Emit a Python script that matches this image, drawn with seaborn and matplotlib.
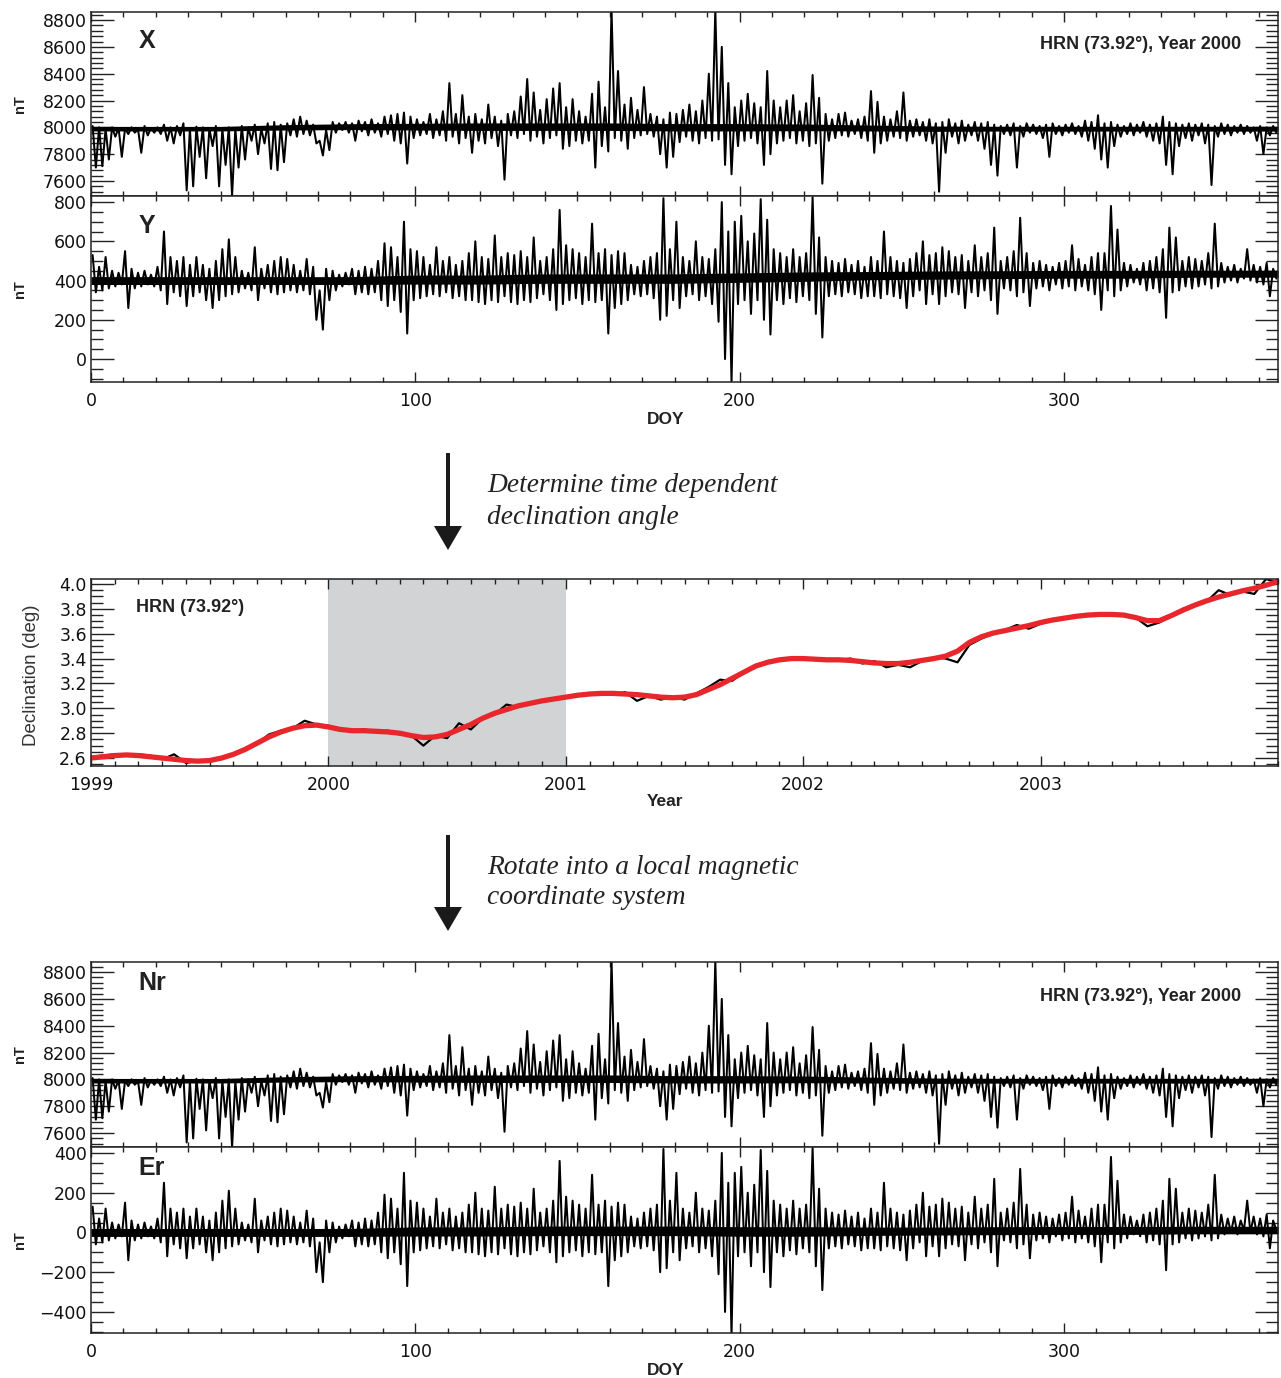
import numpy as np
import pandas as pd
import matplotlib
matplotlib.use("Agg")
import matplotlib.pyplot as plt
import seaborn as sns
from matplotlib.ticker import MultipleLocator, FormatStrFormatter, FixedLocator
from matplotlib.patches import FancyArrow

sns.set_theme(style="white")
plt.rcParams['font.family'] = ['DejaVu Sans']

# ---------------- data (2-day bins: high / low values) ----------------
x_hi = [8010,8000,7990,8000,7995,7990,8000,7985,8010,7995,
        8000,8020,8000,8010,8030,7990,8005,8000,7990,8010,
        7990,8000,7990,8010,8000,8020,7990,8030,8040,8020,
        8030,8060,8080,8050,8020,7900,7980,8040,8030,8040,
        8030,8050,8040,8060,8030,8080,8090,8100,8110,8080,
        8060,8040,8100,8060,8120,8330,8100,8240,8080,8100,
        8060,8170,8080,8050,8100,8120,8230,8360,8260,8130,
        8210,8290,8330,8150,8210,8120,8080,8250,8340,8150,
        8880,8420,8170,8220,8130,8300,8100,8080,8060,8110,
        8100,8130,8170,8120,8200,8400,8880,8600,8330,8150,
        8200,8250,8180,8150,8420,8200,8150,8200,8240,8120,
        8180,8390,8220,8100,8060,8100,8110,8050,8060,8080,
        8270,8190,8080,8060,8120,8260,8050,8060,8040,8060,
        8030,8040,8060,8030,8050,8020,8040,8030,8040,8020,
        8010,8020,8030,8010,8030,8020,8010,8020,8030,8010,
        8020,8030,8010,8050,8040,8090,8030,8040,8020,8010,
        8030,8020,8040,8020,8030,8080,8040,8030,8020,8030,
        8020,8030,8020,8010,8030,8020,8010,8020,8010,8000,
        8010,8000,8010]
x_lo = [7700,7710,7760,7930,7780,7950,7960,7810,7940,7960,
        7950,7900,7880,7940,7530,7560,7780,7620,7860,7560,
        7720,7490,7700,7760,7900,7800,7880,7690,7680,7740,
        7940,7930,7950,7940,7880,7790,7830,7960,7980,7960,
        7900,7970,7940,7960,7930,7950,7900,7880,7730,7920,
        7940,7950,7920,7940,7900,7930,7880,7920,7810,7900,
        7880,7920,7860,7610,7940,7920,7950,7900,7930,7880,
        7920,7940,7840,7860,7900,7880,7900,7700,7860,7820,
        7920,7900,7840,7920,7940,7950,7930,7800,7700,7780,
        7890,7930,7900,7880,7920,7900,7910,7720,7650,7860,
        7900,7920,7880,7720,7800,7880,7900,7920,7880,7900,
        7860,7880,7580,7900,7920,7940,7930,7950,7920,7900,
        7810,7880,7900,7930,7920,7900,7930,7940,7900,7880,
        7520,7810,7930,7880,7900,7940,7900,7840,7720,7640,
        7950,7940,7700,7930,7960,7950,7920,7780,7950,7940,
        7960,7950,7930,7900,7840,7760,7700,7860,7930,7950,
        7940,7960,7930,7900,7880,7720,7650,7860,7920,7900,
        7940,7880,7570,7930,7950,7940,7960,7950,7960,7900,
        7800,7940,7960]

y_hi = [530,470,520,450,440,550,460,440,450,430,
        470,650,520,500,520,480,520,480,460,500,
        560,610,520,450,440,570,460,480,500,520,
        510,480,450,510,470,350,460,450,430,440,
        460,450,470,460,500,590,570,520,700,560,
        550,520,480,570,500,520,480,500,540,600,
        520,510,630,520,540,530,550,520,620,500,
        520,560,760,580,560,540,520,690,540,560,
        530,550,540,480,470,500,520,540,820,560,
        700,520,500,600,520,510,560,800,650,700,
        730,600,640,815,710,560,540,520,560,520,
        540,825,620,520,500,490,510,480,500,470,
        520,500,650,520,500,490,510,540,600,530,
        540,570,550,520,530,500,580,520,540,670,
        500,520,550,720,540,490,500,480,470,490,
        500,580,510,480,520,540,540,780,660,490,
        480,460,490,500,520,560,670,620,500,520,
        510,500,540,690,490,470,480,460,560,480,
        470,490,460]
y_lo = [340,350,360,370,380,260,360,370,380,370,
        350,280,340,320,270,320,340,300,260,300,
        320,330,340,360,350,300,360,340,330,340,
        350,340,350,330,200,150,300,350,370,380,
        330,340,330,340,300,270,300,240,130,300,
        310,320,330,320,340,310,320,300,300,290,
        280,300,290,320,290,280,300,290,310,330,
        300,250,280,300,310,280,300,290,300,130,
        260,280,300,330,320,330,310,200,220,300,
        260,320,330,300,320,280,190,0,-120,280,
        300,230,300,200,125,300,280,310,290,320,
        300,230,110,320,330,320,340,330,310,320,
        320,310,330,320,310,260,320,350,280,330,
        280,320,340,330,260,340,320,350,300,230,
        360,350,320,340,270,360,370,350,380,360,
        370,350,370,350,330,250,350,320,350,370,
        390,380,350,360,340,210,340,350,370,360,
        370,380,360,370,390,400,390,410,400,390,
        380,320,410]

nr_hi = [8010,8000,7990,8000,7995,7990,8000,7985,8010,7995,
         8000,8020,8000,8010,8030,7990,8005,8000,7990,8010,
         7990,8000,7990,8010,8000,8020,7990,8030,8040,8020,
         8030,8060,8080,8050,8020,7900,7980,8040,8030,8040,
         8030,8050,8040,8060,8030,8080,8090,8100,8110,8080,
         8060,8040,8100,8060,8120,8330,8100,8240,8080,8100,
         8060,8170,8080,8050,8100,8120,8230,8360,8260,8130,
         8210,8290,8330,8150,8210,8120,8080,8250,8340,8150,
         8890,8420,8170,8220,8130,8300,8100,8080,8060,8110,
         8100,8130,8170,8120,8200,8400,8890,8600,8330,8150,
         8200,8250,8180,8150,8420,8200,8150,8200,8240,8120,
         8180,8390,8220,8100,8060,8100,8110,8050,8060,8080,
         8270,8190,8080,8060,8120,8260,8050,8060,8040,8060,
         8030,8040,8060,8030,8050,8020,8040,8030,8040,8020,
         8010,8020,8030,8010,8030,8020,8010,8020,8030,8010,
         8020,8030,8010,8050,8040,8090,8030,8040,8020,8010,
         8030,8020,8040,8020,8030,8080,8040,8030,8020,8030,
         8020,8030,8020,8010,8030,8020,8010,8020,8010,8000,
         8010,8000,8010]
nr_lo = [7700,7710,7760,7930,7780,7950,7960,7810,7940,7960,
         7950,7900,7880,7940,7530,7560,7780,7620,7860,7560,
         7720,7490,7700,7760,7900,7800,7880,7690,7680,7740,
         7940,7930,7950,7940,7880,7790,7830,7960,7980,7960,
         7900,7970,7940,7960,7930,7950,7900,7880,7730,7920,
         7940,7950,7920,7940,7900,7930,7880,7920,7810,7900,
         7880,7920,7860,7610,7940,7920,7950,7900,7930,7880,
         7920,7940,7840,7860,7900,7880,7900,7700,7860,7820,
         7920,7900,7840,7920,7940,7950,7930,7800,7700,7780,
         7890,7930,7900,7880,7920,7900,7910,7720,7650,7860,
         7900,7920,7880,7720,7800,7880,7900,7920,7880,7900,
         7860,7880,7580,7900,7920,7940,7930,7950,7920,7900,
         7810,7880,7900,7930,7920,7900,7930,7940,7900,7880,
         7520,7810,7930,7880,7900,7940,7900,7840,7720,7640,
         7950,7940,7700,7930,7960,7950,7920,7780,7950,7940,
         7960,7950,7930,7900,7840,7760,7700,7860,7930,7950,
         7940,7960,7930,7900,7880,7720,7650,7860,7920,7900,
         7940,7880,7570,7930,7950,7940,7960,7950,7960,7900,
         7800,7940,7960]

er_hi = [130,70,120,50,40,150,60,40,50,30,
         70,250,120,100,120,80,120,80,60,100,
         160,210,120,50,40,170,60,80,100,120,
         110,80,50,110,70,-50,60,50,30,40,
         60,50,70,60,100,190,170,120,300,160,
         150,120,80,170,100,120,80,100,140,200,
         120,110,230,120,140,130,150,120,220,100,
         120,160,360,180,160,140,120,290,140,160,
         130,150,140,80,70,100,120,140,420,160,
         300,120,100,200,120,110,160,400,250,300,
         330,200,240,415,310,160,140,120,160,120,
         140,425,220,120,100,90,110,80,100,70,
         120,100,250,120,100,90,110,140,200,130,
         140,170,150,120,130,100,180,120,140,270,
         100,120,150,320,140,90,100,80,70,90,
         100,180,110,80,120,140,140,380,260,90,
         80,60,90,100,120,160,270,220,100,120,
         110,100,140,290,90,70,80,60,160,80,
         70,90,60]
er_lo = [-60,-50,-40,-30,-20,-140,-40,-30,-20,-30,
         -50,-120,-60,-80,-130,-80,-60,-100,-140,-100,
         -80,-70,-60,-40,-50,-100,-40,-60,-70,-60,
         -50,-60,-50,-70,-200,-250,-100,-50,-30,-20,
         -70,-60,-70,-60,-100,-130,-100,-160,-270,-100,
         -90,-80,-70,-80,-60,-90,-80,-100,-100,-110,
         -120,-100,-110,-80,-110,-120,-100,-110,-90,-70,
         -100,-150,-120,-100,-90,-120,-100,-110,-100,-270,
         -140,-120,-100,-70,-80,-70,-90,-200,-180,-100,
         -140,-80,-70,-100,-80,-120,-210,-400,-520,-120,
         -100,-170,-100,-200,-275,-100,-120,-90,-110,-80,
         -100,-170,-290,-80,-70,-80,-60,-70,-90,-80,
         -80,-90,-70,-80,-90,-140,-80,-50,-120,-70,
         -120,-80,-60,-70,-140,-60,-80,-50,-100,-170,
         -40,-50,-80,-60,-130,-40,-30,-50,-20,-40,
         -30,-50,-30,-50,-70,-150,-50,-80,-50,-30,
         -10,-20,-50,-40,-60,-190,-60,-50,-30,-40,
         -30,-20,-40,-30,-10,0,-10,10,0,-10,
         -20,-80,10]

# quiet-time core band of each trace, sampled every 20 days (plus day 366)
core_days = [0, 20, 40, 60, 80, 100, 120, 140, 160, 180, 200, 220, 240, 260,
             280, 300, 320, 340, 360, 366]
x_core_lo = [7973,7973,7973,7980,7983,7980,7977,7977,7977,7973,7973,7975,7973,7970,
             7972,7972,7972,7972,7972,7972]
x_core_hi = [8007,8007,8007,8020,8027,8030,8033,8033,8033,8028,8028,8025,8017,8010,
             8008,8008,8008,8008,8008,8008]
nr_core_lo = [7973,7973,7973,7980,7983,7980,7977,7977,7977,7973,7973,7975,7973,7970,
              7972,7972,7972,7972,7972,7972]
nr_core_hi = [8007,8007,8007,8020,8027,8030,8033,8033,8033,8028,8028,8025,8017,8010,
              8008,8008,8008,8008,8008,8008]
y_core_lo = [380,380,380,380,380,382,382,386,386,386,391,396,404,407,410,412,412,417,417,417]
y_core_hi = [420,420,420,420,420,428,428,434,434,434,439,444,446,449,450,452,452,453,453,453]
er_core_lo = [-20,-20,-20,-20,-20,-18,-18,-16,-16,-16,-19,-19,-15,-13,-11,-10,-10,-7,-7,-7]
er_core_hi = [20,20,20,20,20,28,28,32,32,32,29,29,27,27,29,30,30,31,31,31]

# declination: black = measured, red = smoothed (both 0.05 yr steps)
decl_years = [1999.00 + 0.05 * i for i in range(101)]
decl_black = [2.61,2.62,2.63,2.63,2.63,2.62,2.59,2.63,2.56,2.58,
              2.57,2.60,2.62,2.68,2.72,2.79,2.82,2.84,2.90,2.87,
              2.86,2.83,2.81,2.83,2.81,2.82,2.79,2.78,2.70,2.78,
              2.76,2.88,2.83,2.92,2.95,3.03,3.01,3.04,3.06,3.07,
              3.09,3.11,3.12,3.12,3.11,3.13,3.06,3.10,3.07,3.09,
              3.07,3.12,3.17,3.23,3.22,3.29,3.33,3.38,3.39,3.40,
              3.40,3.40,3.39,3.39,3.40,3.36,3.38,3.33,3.35,3.33,
              3.38,3.41,3.40,3.37,3.51,3.56,3.60,3.63,3.67,3.64,
              3.68,3.71,3.72,3.74,3.75,3.76,3.76,3.75,3.73,3.66,
              3.69,3.74,3.80,3.83,3.86,3.95,3.91,3.94,3.92,4.04,
              4.01]
decl_red = [2.600,2.610,2.620,2.625,2.620,2.610,2.600,2.590,2.580,2.575,
            2.580,2.600,2.630,2.670,2.720,2.770,2.810,2.840,2.860,2.865,
            2.850,2.830,2.820,2.820,2.815,2.810,2.800,2.780,2.765,2.770,
            2.790,2.830,2.870,2.920,2.960,2.990,3.020,3.040,3.060,3.075,
            3.090,3.105,3.115,3.120,3.120,3.115,3.110,3.100,3.090,3.085,
            3.090,3.110,3.150,3.190,3.240,3.290,3.340,3.370,3.390,3.400,
            3.400,3.395,3.390,3.390,3.385,3.375,3.365,3.360,3.360,3.370,
            3.385,3.400,3.420,3.460,3.530,3.575,3.605,3.625,3.645,3.665,
            3.690,3.710,3.725,3.740,3.750,3.755,3.755,3.750,3.730,3.705,
            3.705,3.745,3.790,3.830,3.865,3.895,3.920,3.945,3.965,3.990,
            4.020]
year_ticks = [1999, 2000, 2001, 2002, 2003]

station_label = "HRN (73.92°), Year 2000"
station_short = "HRN (73.92°)"

# ---------------- figure ----------------
W, H = 1281, 1378
fig = plt.figure(figsize=(W / 100, H / 100), dpi=100)


def ax_px(top, bottom, left=91, right=1278):
    return fig.add_axes([left / W, 1 - bottom / H, (right - left) / W, (bottom - top) / H])


def interleave(hi, lo):
    v = np.column_stack([hi, lo]).ravel()
    d = np.arange(v.size) + 0.5
    return pd.DataFrame({"DOY": d, "value": v})


SP = '#222222'


def style(ax, xmaj, xmin, ymaj, ymin, xlabels=True):
    for s in ax.spines.values():
        s.set_visible(True)
        s.set_color(SP)
        s.set_linewidth(1.1)
    ax.xaxis.set_major_locator(xmaj if not isinstance(xmaj, (int, float)) else MultipleLocator(xmaj))
    ax.xaxis.set_minor_locator(MultipleLocator(xmin))
    ax.yaxis.set_major_locator(MultipleLocator(ymaj))
    ax.yaxis.set_minor_locator(MultipleLocator(ymin))
    ax.tick_params(which='both', direction='in', top=True, right=True, bottom=True,
                   left=True, color=SP, width=1.0, labelsize=12.5, labelcolor='#111111')
    ax.tick_params(axis='y', which='major', length=16.5, pad=3)
    ax.tick_params(axis='y', which='minor', length=8.5)
    ax.tick_params(axis='x', which='major', length=7, pad=7)
    ax.tick_params(axis='x', which='minor', length=3.5)
    if not xlabels:
        ax.tick_params(axis='x', labelbottom=False)
    ax.grid(False)


LBL = dict(family='Liberation Sans', fontweight='bold', color='#222222')


def mag_panel(top, bottom, hi, lo, core_lo, core_hi, ylim, ymaj, ymin, name, name_y,
              show_x, stn_y=None):
    ax = ax_px(top, bottom)
    ax.fill_between(core_days, core_lo, core_hi, color='black', lw=0)
    df = interleave(hi, lo)
    sns.lineplot(data=df, x="DOY", y="value", ax=ax, color='black', linewidth=1.45,
                 estimator=None, sort=False, legend=False)
    ax.set_xlim(0, 366)
    ax.set_ylim(*ylim)
    style(ax, 100, 10, ymaj, ymin, xlabels=show_x)
    ax.set_ylabel("nT", fontsize=10.5, **LBL)
    ax.yaxis.set_label_coords(-0.054, 0.5)
    if show_x:
        ax.set_xlabel("DOY", fontsize=12.5, **LBL)
        ax.xaxis.set_label_coords(0.484, -0.162)
    else:
        ax.set_xlabel("")
    ax.text(0.040, name_y, name, transform=ax.transAxes, fontsize=18, ha='left', va='center', **LBL)
    if stn_y is not None:
        ax.text(0.969, stn_y, station_label, transform=ax.transAxes, fontsize=13,
                ha='right', va='center', **LBL)
    return ax


mag_panel(12, 196, x_hi, x_lo, x_core_lo, x_core_hi, (7488, 8860), 200, 40, "X", 0.845, False, stn_y=0.821)
mag_panel(196, 382, y_hi, y_lo, y_core_lo, y_core_hi, (-117, 831), 200, 50, "Y", 0.839, True)
mag_panel(962, 1147, nr_hi, nr_lo, nr_core_lo, nr_core_hi, (7496, 8875), 200, 40, "Nr", 0.886, False, stn_y=0.811)
mag_panel(1147, 1333, er_hi, er_lo, er_core_lo, er_core_hi, (-506, 430), 200, 50, "Er", 0.887, True)

# declination panel
axd = ax_px(579, 766)
axd.axvspan(2000, 2001, color='#d1d3d4', lw=0, zorder=0)
sns.lineplot(x=decl_years, y=decl_black, ax=axd, color='black', linewidth=1.6,
             estimator=None, sort=False, legend=False)
sns.lineplot(x=decl_years, y=decl_red, ax=axd, color='#e8262b', linewidth=3.8,
             estimator=None, sort=False, legend=False)
axd.set_xlim(1999, 2004)
axd.set_ylim(2.536, 4.04)
style(axd, FixedLocator(year_ticks), 0.1, 0.2, 0.05)
axd.xaxis.set_major_formatter(FormatStrFormatter('%d'))
axd.yaxis.set_major_formatter(FormatStrFormatter('%.1f'))
axd.set_ylabel("Declination (deg)", fontsize=13.5, family='Liberation Sans', color='#333333')
axd.yaxis.set_label_coords(-0.043, 0.487)
axd.set_xlabel("Year", fontsize=12.5, **LBL)
axd.xaxis.set_label_coords(0.484, -0.152)
axd.text(0.038, 0.845, station_short, transform=axd.transAxes, fontsize=13,
         ha='left', va='center', **LBL)

# overlay for arrows and annotations (pixel coordinates)
axo = fig.add_axes([0, 0, 1, 1])
axo.set_xlim(0, W)
axo.set_ylim(H, 0)
axo.axis('off')
axo.patch.set_alpha(0)
for y0, y1 in [(453, 550), (835, 931)]:
    axo.add_patch(FancyArrow(448, y0, 0, y1 - y0, width=4, head_width=28, head_length=24,
                             length_includes_head=True, color='#1a1a1a', lw=0))
TXT = dict(family='Liberation Serif', style='italic', fontsize=19.8, color='#222222',
           ha='left', va='center')
axo.text(487, 485, "Determine time dependent", **TXT)
axo.text(487, 517, "declination angle", **TXT)
axo.text(487, 867, "Rotate into a local magnetic", **TXT)
axo.text(487, 898, "coordinate system", **TXT)

fig.savefig("out.png", dpi=100)
